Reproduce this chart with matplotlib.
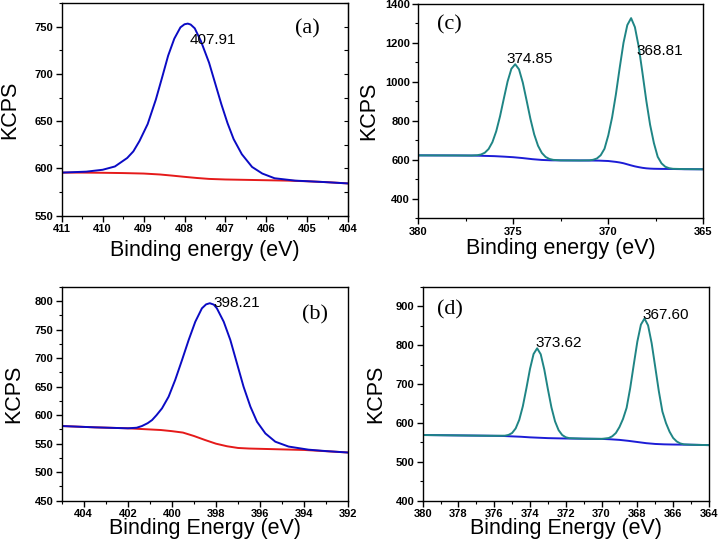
import matplotlib
matplotlib.use("Agg")
import matplotlib.pyplot as plt
from matplotlib.ticker import MultipleLocator

plt.rcParams["font.family"] = ["Liberation Sans", "DejaVu Sans"]

# (a) values (binding energy in eV, KCPS)
a_env_x = [411.0, 410.4, 410.0, 409.7, 409.4, 409.25, 409.1, 408.9, 408.7, 408.55, 408.4, 408.25, 408.1, 408.0,
           407.92, 407.85, 407.75, 407.6, 407.4, 407.25, 407.1, 406.95, 406.8, 406.6, 406.35, 406.1, 405.8, 405.3,
           404.6, 404.0]
a_env_y = [595.5, 596.5, 598.5, 602, 611, 618, 629, 647, 673, 696, 719.5, 737.5, 749.5, 752.8,
           753.5, 752.5, 748.5, 735, 712, 690, 668, 648, 631, 615, 601.5, 594.5, 589.5, 587,
           585.5, 584]
a_bg_x = [411, 410.5, 410, 409.5, 409, 408.6, 408.3, 408, 407.7, 407.4, 407, 406.5, 406, 405.5, 405, 404.5, 404]
a_bg_y = [595.5, 595.5, 595.3, 595, 594.5, 593.5, 592.3, 591, 589.8, 588.8, 588.2, 587.8, 587.4, 587, 586.3, 585.3, 584]

# (b)
b_env_x = [405, 403.5, 402, 401.6, 401.36, 401.1, 400.9, 400.7, 400.45, 400.15, 399.85, 399.54, 399.24, 398.94,
           398.64, 398.45, 398.28, 398.1, 397.96, 397.65, 397.35, 397.05, 396.75, 396.44, 396.14, 395.76, 395.31,
           394.71, 393.8, 393, 392]
b_env_y = [581, 578.7, 577, 578, 581, 586, 591.5, 600, 612, 632.5, 662, 697, 732, 764,
           787.5, 794.5, 796.5, 794, 787.5, 764, 732, 691, 650, 615, 588.5, 568, 553.5,
           545, 539.5, 537, 534.5]
b_bg_x = [405, 403.5, 402, 401.5, 401, 400.5, 400, 399.5, 399, 398.5, 398, 397.5, 397, 396.5, 396, 395, 394, 393, 392]
b_bg_y = [581, 578.7, 577, 576, 575, 574, 572, 569.5, 563.5, 556.5, 550, 545.5, 542.5, 541.5, 541, 540, 539, 536.8, 534.5]

# (c)
c_env_x = [380, 378, 377.2, 376.9, 376.7, 376.5, 376.3, 376.1, 375.9, 375.7, 375.5, 375.3, 375.1, 374.9,
           374.7, 374.5, 374.3, 374.1, 373.9, 373.7, 373.5, 373.3, 373.1, 372.9, 372.5, 372.0, 371.5,
           371.0, 370.8, 370.6, 370.4, 370.2, 370.0, 369.8, 369.6, 369.4, 369.2, 369.0, 368.8, 368.6, 368.4,
           368.2, 368.0, 367.8, 367.6, 367.4, 367.2, 367.0, 366.8, 366.6, 366.0, 365.0]
c_env_y = [623, 622.5, 622.2, 623.7, 627.4, 636.6, 655.8, 690.9, 746.5, 823.2, 914, 1002.7, 1067.8, 1090.8,
           1064.5, 996.2, 904.5, 810.5, 730.5, 672.5, 635.6, 614.9, 604.5, 599.9, 597.2, 597, 596.8,
           597.5, 600.3, 607, 623.7, 657, 726, 818, 936.5, 1072.5, 1201, 1291.7, 1327.5, 1281.2, 1181,
           1045, 903.5, 780, 686.2, 615.7, 582, 564.5, 557.2, 554, 552.5, 551.5]
c_bg_x = [380, 378, 377, 376.5, 376, 375.5, 375, 374.5, 374, 373.5, 373, 372, 371, 370.5, 370, 369.6, 369.4, 369.2,
          369.0, 368.8, 368.6, 368.4, 368.2, 368.0, 367.8, 367.6, 367.2, 366.6, 366, 365]
c_bg_y = [623, 622.5, 621.8, 620.3, 619, 616.5, 613.5, 609, 603.5, 599.5, 597.5, 597, 596.5, 596, 594, 589.5, 586.5,
          582.5, 577, 571.5, 566.5, 562.5, 559, 556.5, 555, 554.2, 553.5, 553, 552, 551.5]

# (d)
d_env_x = [380, 377, 376, 375.4, 375.2, 375.0, 374.8, 374.6, 374.4, 374.2, 374.0, 373.8, 373.6, 373.4, 373.2,
           373.0, 372.8, 372.6, 372.4, 372.2, 372.0, 371.8, 371, 370, 369.6, 369.4, 369.2, 369.0, 368.8, 368.6,
           368.4, 368.2, 368.0, 367.8, 367.6, 367.4, 367.2, 367.0, 366.8, 366.6, 366.4, 366.2, 366.0, 365.8,
           365.6, 365.4, 365, 364]
d_env_y = [569, 567.5, 567, 567.3, 569.2, 574.2, 586, 608.2, 643, 689.5, 739, 777.5, 792.2, 776.8, 737.4,
           687, 639.8, 604.1, 581.4, 569, 563.2, 560.9, 559.5, 559, 561.2, 565.8, 574.2, 589.5, 610.5, 639,
           689.6, 750.2, 809.5, 853.2, 868.8, 851.2, 805.3, 744, 682, 629.5, 599.8, 577.6, 561.5, 552.4,
           547.3, 545, 544, 543]
d_bg_x = [380, 376, 375.5, 375, 374.5, 374, 373.5, 373, 372.5, 372, 371, 370, 369.5, 369, 368.5, 368, 367.5, 367,
          366.5, 366, 365, 364]
d_bg_y = [569, 567, 566.5, 565.5, 564.5, 563, 562, 561, 560.5, 560, 559.5, 559, 558, 556.5, 554, 551, 548, 546,
          545, 544.5, 544, 543]

# peak labels (text, energy, KCPS)
a_peaks = [("407.91", 407.87, 736)]
b_peaks = [("398.21", 398.11, 796.5)]
c_peaks = [("374.85", 375.37, 1116), ("368.81", 368.53, 1159)]
d_peaks = [("373.62", 373.68, 805), ("367.60", 367.73, 877)]

ENV_BLUE = "#0b0bc4"
BG_RED = "#e51a1a"
TEAL = "#1f8585"
BASE_BLUE = "#1c1cd6"

fig = plt.figure(figsize=(7.2, 5.46), dpi=100)


def make_panel(rect, xlim, ylim, xmaj, xmin, ymaj, ymin, xlabel, tag, tagpos, xlab_y, ylab_x):
    ax = fig.add_axes(rect)
    ax.set_xlim(*xlim)
    ax.set_ylim(*ylim)
    ax.xaxis.set_major_locator(MultipleLocator(xmaj))
    ax.xaxis.set_minor_locator(MultipleLocator(xmin))
    ax.yaxis.set_major_locator(MultipleLocator(ymaj))
    ax.yaxis.set_minor_locator(MultipleLocator(ymin))
    ax.tick_params(which="major", direction="out", length=4, width=1, pad=2, labelsize=8)
    ax.tick_params(which="minor", direction="out", length=2.5, width=0.8)
    for sp in ax.spines.values():
        sp.set_linewidth(1.0)
    ax.set_xlabel(xlabel, fontsize=15.5, va="center")
    ax.xaxis.set_label_coords(0.5, xlab_y)
    ax.set_ylabel("KCPS", fontsize=15.5, va="center")
    ax.yaxis.set_label_coords(ylab_x, 0.5)
    ax.text(tagpos[0], tagpos[1], tag, transform=ax.transAxes, fontsize=16,
            family=["Liberation Serif", "DejaVu Serif"], ha="center", va="center")
    return ax


ax_a = make_panel([0.0857, 0.6053, 0.398, 0.3886], (411, 404), (550, 775), 1, 0.5, 50, 25,
                  "Binding energy (eV)", "(a)", (0.856, 0.882), -0.163, -0.18)
ax_a.plot(a_bg_x, a_bg_y, color=BG_RED, lw=1.4)
ax_a.plot(a_env_x, a_env_y, color=ENV_BLUE, lw=1.4)
# panel (a) also has inward ticks on the right side
sec = ax_a.secondary_yaxis("right")
sec.yaxis.set_major_locator(MultipleLocator(25))
sec.tick_params(direction="in", length=3, width=0.8, labelright=False)

ax_b = make_panel([0.0857, 0.0830, 0.398, 0.3914], (405, 392), (450, 825), 2, 1, 50, 25,
                  "Binding Energy (eV)", "(b)", (0.885, 0.869), -0.128, -0.166)
ax_b.plot(b_bg_x, b_bg_y, color=BG_RED, lw=1.4)
ax_b.plot(b_env_x, b_env_y, color=ENV_BLUE, lw=1.4)

ax_c = make_panel([0.581, 0.6002, 0.3958, 0.3925], (380, 365), (300, 1400), 5, 2.5, 200, 100,
                  "Binding energy (eV)", "(c)", (0.110, 0.902), -0.14, -0.175)
ax_c.plot(c_bg_x, c_bg_y, color=BASE_BLUE, lw=1.4)
ax_c.plot(c_env_x, c_env_y, color=TEAL, lw=1.4)

ax_d = make_panel([0.587, 0.0830, 0.3976, 0.3914], (380, 364), (400, 950), 2, 1, 100, 50,
                  "Binding Energy (eV)", "(d)", (0.094, 0.892), -0.128, -0.163)
ax_d.plot(d_bg_x, d_bg_y, color=BASE_BLUE, lw=1.4)
ax_d.plot(d_env_x, d_env_y, color=TEAL, lw=1.4)

for ax, peaks in [(ax_a, a_peaks), (ax_b, b_peaks), (ax_c, c_peaks), (ax_d, d_peaks)]:
    for txt, e, v in peaks:
        ax.text(e, v, txt, fontsize=11, ha="left", va="center")

# tick labels in bold (ticks exist only after a first draw)
fig.canvas.draw()
for ax in [ax_a, ax_b, ax_c, ax_d]:
    plt.setp(ax.get_xticklabels() + ax.get_yticklabels(), fontweight="bold")

fig.savefig("out.png", dpi=100)
